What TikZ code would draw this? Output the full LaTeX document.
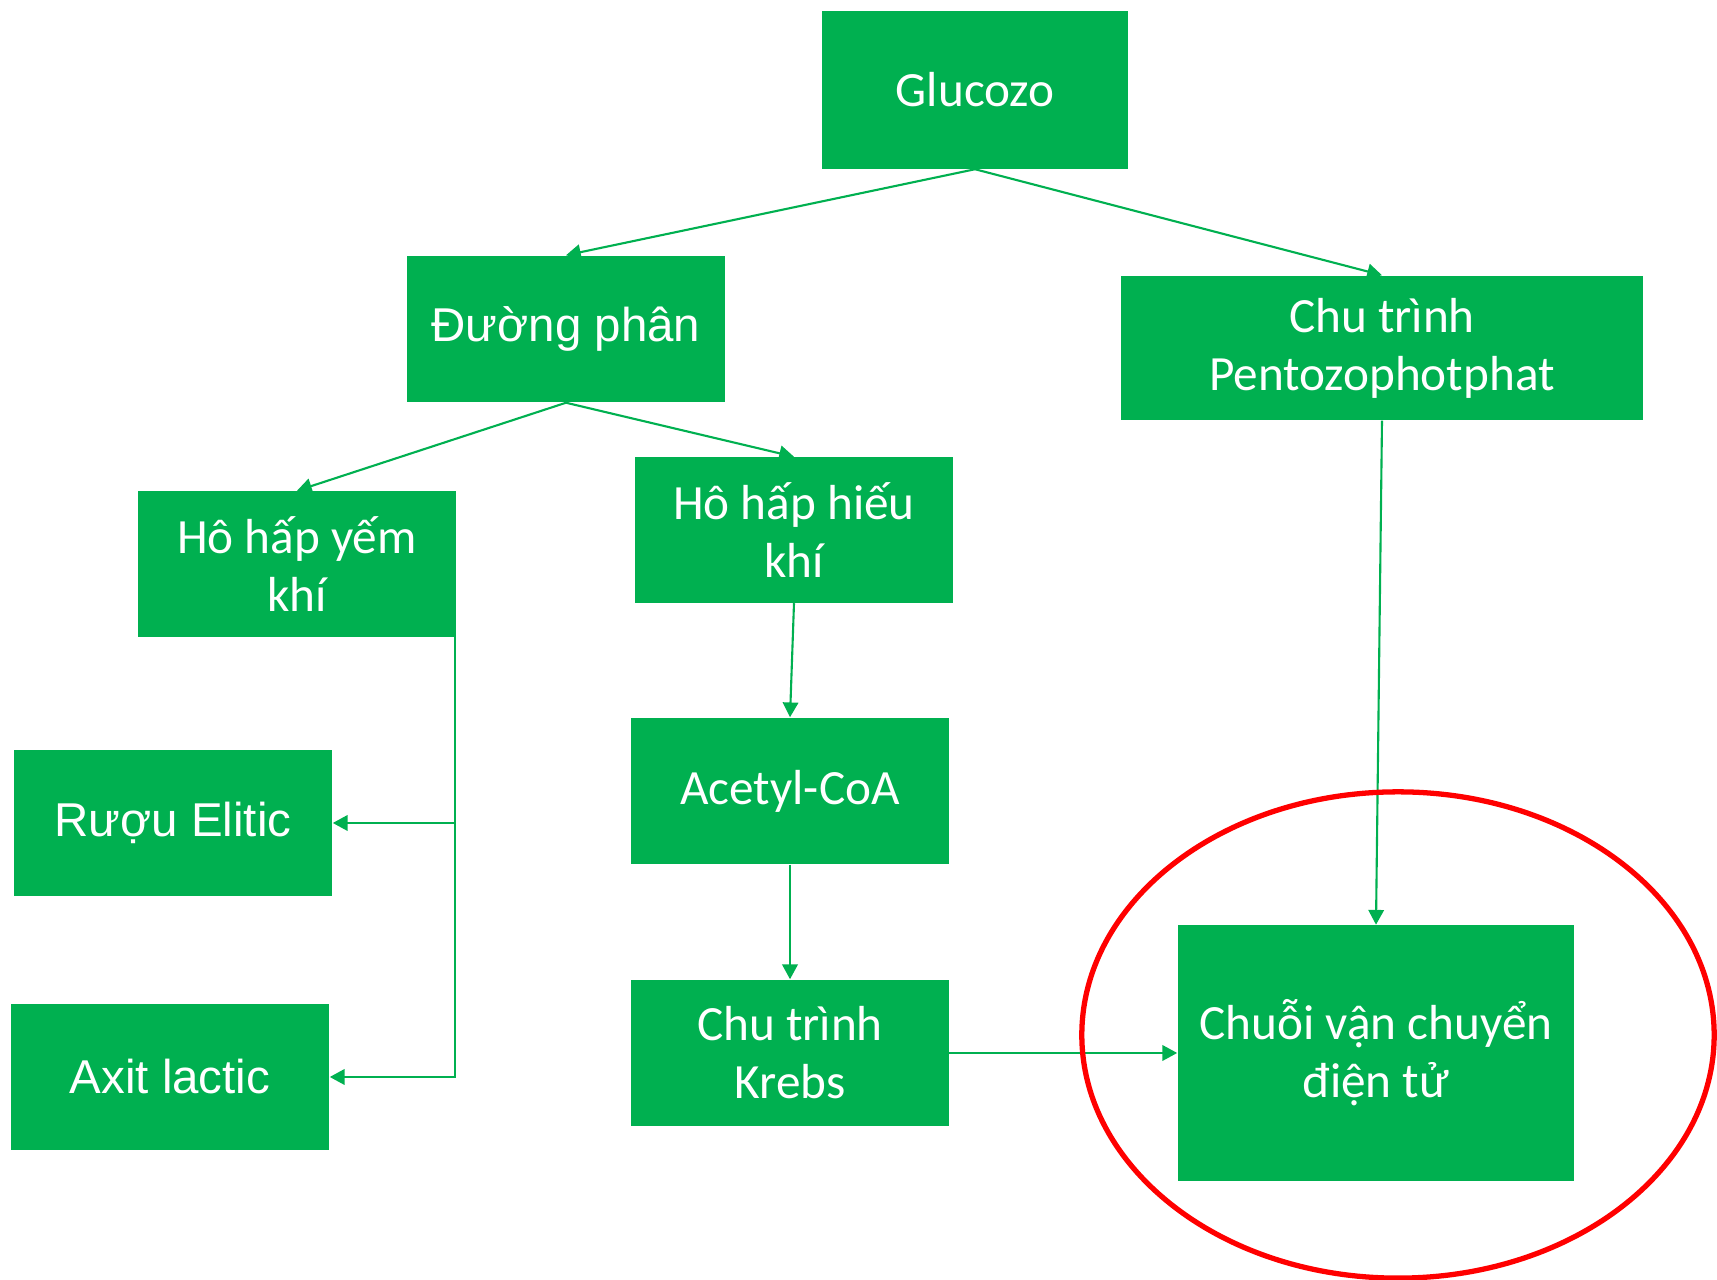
\documentclass[tikz,border=0pt]{standalone}
\usepackage{fontspec}
\setmainfont{Carlito}
\newfontfamily\arialfont{Liberation Sans}
\usetikzlibrary{arrows.meta}
\definecolor{boxgreen}{HTML}{00B050}
\definecolor{ringred}{HTML}{FF0000}
\tikzset{
  box/.style={fill=boxgreen, text=white, align=center, inner sep=0pt,
    font=\fontsize{14}{16.5}\selectfont},
  arialbox/.style={box, font=\arialfont\fontsize{13.5}{16}\selectfont},
  conn/.style={draw=boxgreen, line width=0.6pt, -{Triangle[length=4.2pt,width=4.4pt]}},
}
\begin{document}
\begin{tikzpicture}[x=0.01cm,y=-0.01cm]
    \useasboundingbox (0,0) rectangle (1717,1280);
    %
    \node[box, minimum width=3.05cm, minimum height=1.57cm] (glu) at (975,90) {Glucozo};
    \node[arialbox, minimum width=3.18cm, minimum height=1.46cm] (duong) at (566,329) {Đường phân};
    \node[box, minimum width=5.22cm, minimum height=1.44cm] (pento) at (1382,348) {Chu trình\\Pentozophotphat};
    %
    \node[box, minimum width=3.18cm, minimum height=1.45cm] (yem) at (297,564) {Hô hấp yếm\\khí};
    \node[box, minimum width=3.18cm, minimum height=1.45cm] (hieu) at (794,530) {Hô hấp hiếu\\khí};
    \node[box, minimum width=3.17cm, minimum height=1.46cm] (acetyl) at (790,791) {Acetyl-CoA};
    \node[box, minimum width=3.17cm, minimum height=1.46cm] (krebs) at (790,1053) {Chu trình\\Krebs};
    %
    \node[arialbox, minimum width=3.18cm, minimum height=1.46cm] (ruou) at (173,823) {Rượu Elitic};
    \node[arialbox, minimum width=3.18cm, minimum height=1.46cm] (axit) at (170,1077) {Axit lactic};
    \node[box, minimum width=3.96cm, minimum height=2.55cm] (chuoi) at (1376,1053) {Chuỗi vận chuyển\\điện tử};
    %
    \draw[conn] (glu.south) -- (duong.north);
    \draw[conn] (glu.south) -- (pento.north);
    \draw[conn] (duong.south) -- (yem.north);
    \draw[conn] (duong.south) -- (hieu.north);
    \draw[conn] (hieu.south) -- (acetyl.north);
    \draw[conn] (acetyl.south) -- (krebs.north);
    \draw[conn] (pento.south) -- (chuoi.north);
    \draw[conn] (krebs.east) -- (chuoi.west);
    \draw[conn] ([xshift=-0.02cm]yem.south east) |- (ruou.east);
    \draw[conn] ([xshift=-0.02cm]yem.south east) |- (axit.east);
    %
    \draw[ringred, line width=1.5pt] (1398,1035) ellipse [x radius=3.16cm, y radius=2.43cm];
    %
  \end{tikzpicture}
\end{document}
